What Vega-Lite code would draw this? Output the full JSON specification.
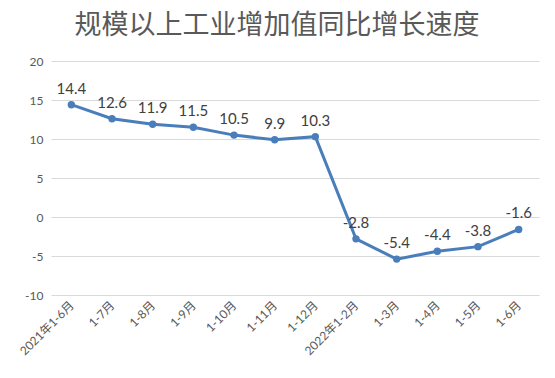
{
  "$schema": "https://vega.github.io/schema/vega-lite/v6.json",
  "width": 488,
  "height": 234,
  "autosize": {"type": "none"},
  "padding": {"left": 51, "top": 61, "right": 16, "bottom": 83},
  "background": "white",
  "title": {
    "text": "规模以上工业增加值同比增长速度",
    "font": "Noto Sans CJK SC",
    "fontSize": 27,
    "fontWeight": "normal",
    "color": "#595959",
    "anchor": "middle",
    "dx": -18,
    "offset": 15
  },
  "config": {
    "view": {"stroke": null},
    "axis": {"labelFont": "Lato, Noto Sans CJK SC", "labelColor": "#595959", "gridColor": "#d9d9d9", "gridWidth": 1}
  },
  "data": {
    "values": [
      {"period": "2021年1-6月", "value": 14.4},
      {"period": "1-7月", "value": 12.6},
      {"period": "1-8月", "value": 11.9},
      {"period": "1-9月", "value": 11.5},
      {"period": "1-10月", "value": 10.5},
      {"period": "1-11月", "value": 9.9},
      {"period": "1-12月", "value": 10.3},
      {"period": "2022年1-2月", "value": -2.8},
      {"period": "1-3月", "value": -5.4},
      {"period": "1-4月", "value": -4.4},
      {"period": "1-5月", "value": -3.8},
      {"period": "1-6月", "value": -1.6}
    ]
  },
  "encoding": {
    "x": {
      "field": "period",
      "type": "ordinal",
      "sort": null,
      "scale": {"type": "point", "padding": 0.5},
      "axis": {
        "title": null,
        "domain": false,
        "ticks": false,
        "grid": false,
        "labelAngle": -45,
        "labelAlign": "right",
        "labelBaseline": "middle",
        "labelPadding": 8,
        "labelFontSize": 12
      }
    },
    "y": {
      "field": "value",
      "type": "quantitative",
      "scale": {"domain": [-10, 20], "nice": false},
      "axis": {
        "title": null,
        "values": [-10, -5, 0, 5, 10, 15, 20],
        "labelExpr": "toString(datum.value)",
        "domain": false,
        "ticks": false,
        "labelPadding": 8,
        "labelFontSize": 12
      }
    }
  },
  "layer": [
    {"mark": {"type": "line", "color": "#4a7ebb", "strokeWidth": 3}},
    {"mark": {"type": "point", "filled": true, "opacity": 1, "size": 55, "color": "#4a7ebb"}},
    {
      "mark": {
        "type": "text",
        "dy": -16,
        "fontSize": 15,
        "font": "Lato",
        "color": "#404040",
        "text": {"expr": "replace(format(datum.value, '.1f'), '\u2212', '-')"}
      }
    }
  ]
}
